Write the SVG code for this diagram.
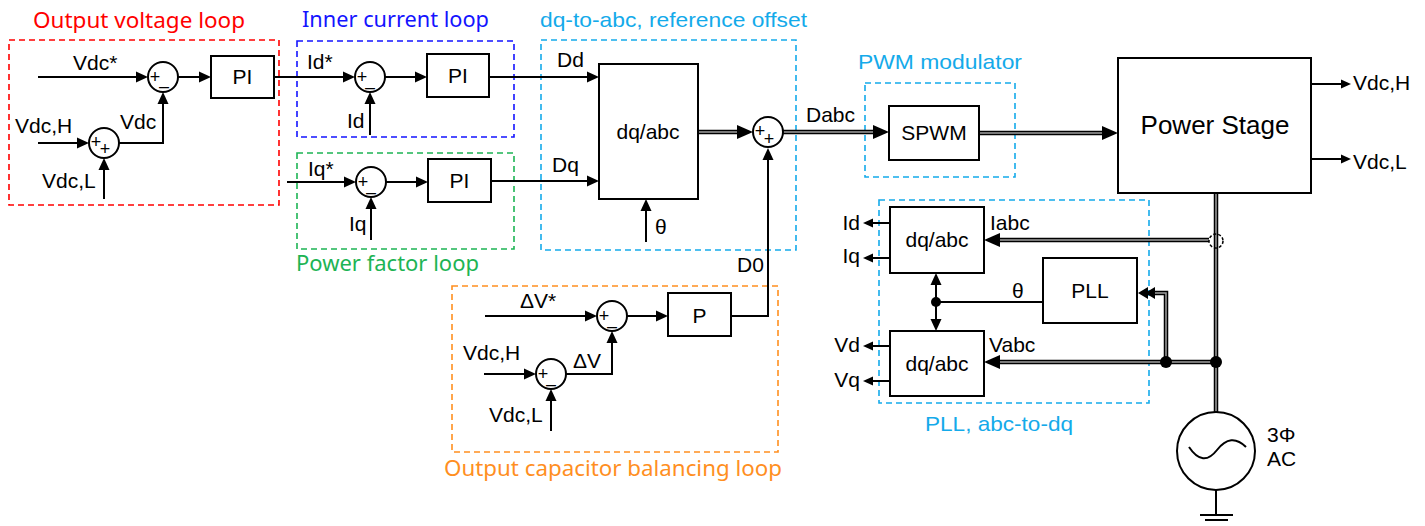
<svg xmlns="http://www.w3.org/2000/svg" width="1425" height="526" viewBox="0 0 1425 526">
<style>
.ln{fill:none;stroke:#000;stroke-width:2}
.bus{fill:none;stroke:#000;stroke-width:4.5}
.busin{fill:none;stroke:#a0a0a0;stroke-width:1.5}
.box{fill:#fff;stroke:#000;stroke-width:2}
.sum{fill:#fff;stroke:#000;stroke-width:2}
.dash{fill:none;stroke-width:1.6;stroke-dasharray:6 4}
.t{font-family:"Liberation Sans",Arial,sans-serif;font-size:21px;fill:#000}
.c{text-anchor:middle}
.e{text-anchor:end}
.sg{font-family:"Liberation Sans",Arial,sans-serif;font-size:18px;fill:#000;text-anchor:middle}
.ti{font-family:"Noto Sans","Open Sans",sans-serif;font-size:21px}
.ta{font-family:"Liberation Sans",Arial,sans-serif;font-size:21px}
.dot{fill:#000}
</style>
<defs>
<marker id="a" markerUnits="userSpaceOnUse" viewBox="0 -6 12 12" markerWidth="12" markerHeight="12" refX="0" refY="0" orient="auto"><path d="M0,-5.5L12,0L0,5.5z" fill="#000"/></marker>
<marker id="ab" markerUnits="userSpaceOnUse" viewBox="0 -7 16 14" markerWidth="16" markerHeight="14" refX="0" refY="0" orient="auto"><path d="M0,-7L16,0L0,7z" fill="#000"/></marker>
<marker id="as" markerUnits="userSpaceOnUse" viewBox="0 -5 10 10" markerWidth="10" markerHeight="10" refX="0" refY="0" orient="auto"><path d="M0,-4.5L10,0L0,4.5z" fill="#000"/></marker>
</defs>
<rect width="1425" height="526" fill="#fff"/>

<g id="output-voltage-loop">
<rect class="dash" x="9" y="40" width="270" height="165" stroke="#ff0000"/>
<text class="ti" x="33" y="28" fill="#ff0000" textLength="212" lengthAdjust="spacingAndGlyphs">Output voltage loop</text>
</g>
<g id="inner-current-loop">
<rect class="dash" x="297" y="41" width="217" height="96" stroke="#1414ff"/>
<text class="ti" x="302" y="27" fill="#1414ff" textLength="187" lengthAdjust="spacingAndGlyphs">Inner current loop</text>
</g>
<g id="power-factor-loop">
<rect class="dash" x="297" y="153" width="217" height="96" stroke="#1db454"/>
<text class="ti" x="296" y="271" fill="#1db454" textLength="183" lengthAdjust="spacingAndGlyphs">Power factor loop</text>
</g>
<g id="dq-to-abc">
<rect class="dash" x="541" y="40" width="255" height="210" stroke="#14aaea"/>
<text class="ta" x="540" y="27" fill="#14aaea" textLength="267" lengthAdjust="spacingAndGlyphs">dq-to-abc, reference offset</text>
</g>
<g id="pwm-modulator">
<rect class="dash" x="865" y="83" width="150" height="94" stroke="#14aaea"/>
<text class="ta" x="858" y="69" fill="#14aaea" textLength="164" lengthAdjust="spacingAndGlyphs">PWM modulator</text>
</g>
<g id="pll-abc-to-dq">
<rect class="dash" x="879" y="200" width="270" height="203" stroke="#14aaea"/>
<text class="ta" x="925" y="431" fill="#14aaea" textLength="148" lengthAdjust="spacingAndGlyphs">PLL, abc-to-dq</text>
</g>
<g id="output-capacitor-balancing-loop">
<rect class="dash" x="452" y="286" width="326" height="166" stroke="#ff8f1f"/>
<text class="ti" x="444" y="476" fill="#ff8f1f" textLength="338" lengthAdjust="spacingAndGlyphs">Output capacitor balancing loop</text>
</g>

<g id="connectors">
<path class="ln" d="M38,77H136" marker-end="url(#a)"/>
<path class="ln" d="M38,143H77" marker-end="url(#a)"/>
<path class="ln" d="M104,199V170" marker-end="url(#a)"/>
<path class="ln" d="M119,143H163V104" marker-end="url(#a)"/>
<path class="ln" d="M178,77H199" marker-end="url(#a)"/>
<path class="ln" d="M274,77H343" marker-end="url(#a)"/>
<path class="ln" d="M370,135V104" marker-end="url(#a)"/>
<path class="ln" d="M385,77H415" marker-end="url(#a)"/>
<path class="ln" d="M489,77H587" marker-end="url(#a)"/>
<path class="ln" d="M287,182H344" marker-end="url(#a)"/>
<path class="ln" d="M371,240V209" marker-end="url(#a)"/>
<path class="ln" d="M386,182H416" marker-end="url(#a)"/>
<path class="ln" d="M491,181H587" marker-end="url(#a)"/>
<path class="ln" d="M646,242V211" marker-end="url(#a)"/>
<path class="bus" d="M698,132H737" marker-end="url(#ab)"/><path class="busin" d="M698,132H737"/>
<path class="ln" d="M731,316H768V160" marker-end="url(#a)"/>
<path class="bus" d="M783,132H873" marker-end="url(#ab)"/><path class="busin" d="M783,132H873"/>
<path class="bus" d="M979,133H1102" marker-end="url(#ab)"/><path class="busin" d="M979,133H1102"/>
<path class="ln" d="M1311,84H1341" marker-end="url(#as)"/>
<path class="ln" d="M1311,159H1341" marker-end="url(#as)"/>
<path class="bus" d="M1216,193V412"/><path class="busin" d="M1216,193V412"/>
<path class="bus" d="M1209,240H1000" marker-end="url(#ab)"/><path class="busin" d="M1209,240H1000"/>
<path class="bus" d="M1216,362H1000" marker-end="url(#ab)"/><path class="busin" d="M1216,362H1000"/>
<path class="bus" d="M1166,362V293H1155"/><path class="busin" d="M1166,362V293H1155"/>
<path d="M1148,287L1138,293L1148,299z M1155,287L1145,293L1155,299z" fill="#000"/>
<circle cx="1216" cy="241" r="7" fill="none" stroke="#000" stroke-width="1.5" stroke-dasharray="3 2"/>
<circle class="dot" cx="1216" cy="362" r="6"/>
<circle class="dot" cx="1166" cy="362" r="6"/>
<path class="ln" d="M890,223H873" marker-end="url(#as)"/>
<path class="ln" d="M890,258H873" marker-end="url(#as)"/>
<path class="ln" d="M890,346H873" marker-end="url(#as)"/>
<path class="ln" d="M890,381H873" marker-end="url(#as)"/>
<path class="ln" d="M936,302H1043"/>
<path class="ln" d="M936,302V285" marker-end="url(#a)"/>
<path class="ln" d="M936,302V319" marker-end="url(#a)"/>
<circle class="dot" cx="936" cy="302" r="5"/>
<path class="ln" d="M485,316H585" marker-end="url(#a)"/>
<path class="ln" d="M627,316H656" marker-end="url(#a)"/>
<path class="ln" d="M484,374H524" marker-end="url(#a)"/>
<path class="ln" d="M551,431V401" marker-end="url(#a)"/>
<path class="ln" d="M566,374H612V343" marker-end="url(#a)"/>
<path class="ln" d="M1216,490V515M1200,515H1233M1205,520H1228"/>
</g>

<g id="labels">
<text class="t" x="73" y="70">Vdc*</text>
<text class="t" x="15" y="133">Vdc,H</text>
<text class="t" x="42" y="188">Vdc,L</text>
<text class="t" x="120" y="129">Vdc</text>
<text class="t" x="307" y="69">Id*</text>
<text class="t" x="347" y="128">Id</text>
<text class="t" x="308" y="176">Iq*</text>
<text class="t" x="349" y="231">Iq</text>
<text class="t" x="557" y="67">Dd</text>
<text class="t" x="552" y="172">Dq</text>
<text class="t" x="655" y="234">θ</text>
<text class="t" x="737" y="272">D0</text>
<text class="t" x="806" y="122">Dabc</text>
<text class="t" x="1353" y="90">Vdc,H</text>
<text class="t" x="1353" y="169">Vdc,L</text>
<text class="t" x="990" y="230">Iabc</text>
<text class="t" x="989" y="352">Vabc</text>
<text class="t" x="1012" y="298">θ</text>
<text class="t e" x="860" y="230">Id</text>
<text class="t e" x="860" y="263">Iq</text>
<text class="t e" x="860" y="352">Vd</text>
<text class="t e" x="860" y="387">Vq</text>
<text class="t" x="520" y="308">ΔV*</text>
<text class="t" x="463" y="360">Vdc,H</text>
<text class="t" x="489" y="422">Vdc,L</text>
<text class="t" x="573" y="368">ΔV</text>
</g>

<g id="sum-vdc-err"><circle class="sum" cx="163" cy="77" r="15"/><text class="sg" x="155" y="83">+</text><text class="sg" x="164" y="92">–</text></g>
<g id="sum-vdc"><circle class="sum" cx="104" cy="143" r="15"/><text class="sg" x="96" y="148">+</text><text class="sg" x="105" y="155">+</text></g>
<g id="pi-voltage"><rect class="box" x="211" y="56" width="63" height="42"/><text class="t c" x="242.5" y="84">PI</text></g>
<g id="sum-id"><circle class="sum" cx="370" cy="77" r="15"/><text class="sg" x="362" y="83">+</text><text class="sg" x="370" y="93">–</text></g>
<g id="pi-id"><rect class="box" x="427" y="54" width="62" height="43"/><text class="t c" x="458" y="83">PI</text></g>
<g id="sum-iq"><circle class="sum" cx="371" cy="182" r="15"/><text class="sg" x="363" y="188">+</text><text class="sg" x="371" y="198">–</text></g>
<g id="pi-iq"><rect class="box" x="428" y="159" width="63" height="43"/><text class="t c" x="459.5" y="188">PI</text></g>
<g id="dq-abc-main"><rect class="box" x="599" y="64" width="99" height="135"/><text class="t c" x="648" y="139">dq/abc</text></g>
<g id="sum-dabc"><circle class="sum" cx="768" cy="132" r="15"/><text class="sg" x="760" y="137">+</text><text class="sg" x="769" y="145">+</text></g>
<g id="spwm"><rect class="box" x="889" y="106" width="90" height="54"/><text class="t c" x="934" y="140">SPWM</text></g>
<g id="power-stage"><rect class="box" x="1118" y="58" width="193" height="135"/><text class="t c" x="1215" y="134" style="font-size:26px">Power Stage</text></g>
<g id="dq-abc-i"><rect class="box" x="890" y="207" width="94" height="66"/><text class="t c" x="937" y="247">dq/abc</text></g>
<g id="dq-abc-v"><rect class="box" x="890" y="331" width="94" height="65"/><text class="t c" x="937" y="371">dq/abc</text></g>
<g id="pll"><rect class="box" x="1043" y="258" width="94" height="65"/><text class="t c" x="1090" y="298">PLL</text></g>
<g id="sum-dv-err"><circle class="sum" cx="612" cy="316" r="15"/><text class="sg" x="604" y="322">+</text><text class="sg" x="612" y="332">–</text></g>
<g id="p-block"><rect class="box" x="668" y="293" width="63" height="43"/><text class="t c" x="699.5" y="323">P</text></g>
<g id="sum-dv"><circle class="sum" cx="551" cy="374" r="15"/><text class="sg" x="543" y="380">+</text><text class="sg" x="551" y="390">–</text></g>
<g id="ac-source"><circle class="sum" cx="1216" cy="451" r="39"/><path class="ln" d="M1189,447Q1203,468 1217,450Q1231,432 1246,447"/><text class="t" x="1267" y="442">3Φ</text><text class="t" x="1267" y="466">AC</text></g>
</svg>
